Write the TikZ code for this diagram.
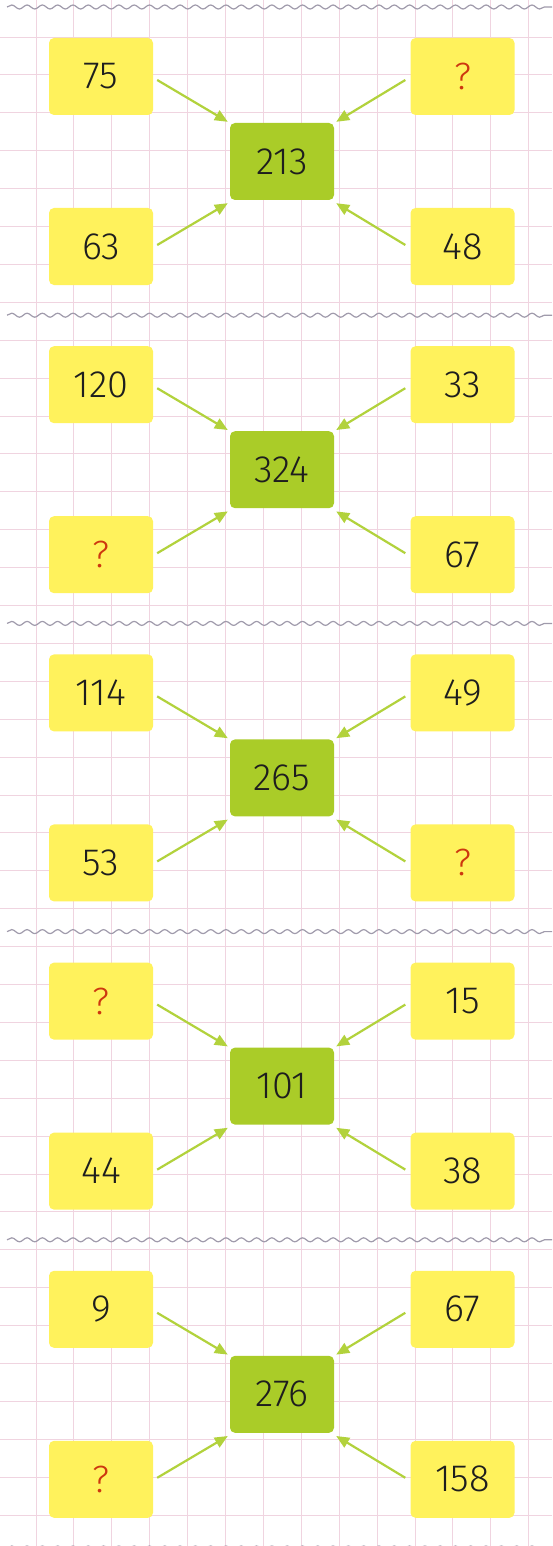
\documentclass[tikz,border=0pt]{standalone}
\usepackage{fontspec}
\setmainfont{Fira Sans Light}
\usetikzlibrary{arrows.meta,calc,decorations.pathmorphing}
\definecolor{boxyellow}{RGB}{255,242,92}
\definecolor{boxgreen}{RGB}{170,204,40}
\definecolor{arrgreen}{RGB}{178,210,60}
\definecolor{gridpink}{RGB}{240,212,224}
\definecolor{wavegray}{RGB}{160,155,172}
\definecolor{qred}{RGB}{205,55,15}
\definecolor{numtext}{RGB}{30,30,30}
\newcommand{\qm}{\textcolor{qred}{?}}
\begin{document}
\begin{tikzpicture}[x=1pt,y=-1pt,
  numbox/.style={rounded corners=5pt, minimum width=104pt, minimum height=77pt, inner sep=0pt, font=\fontsize{38}{42}\selectfont, text=numtext},
  ybox/.style={numbox, fill=boxyellow},
  gbox/.style={numbox, fill=boxgreen},
  conn/.style={draw=arrgreen, line width=2.2pt, -{Triangle[length=13pt,width=11pt]}},
  wave/.style={draw=wavegray, line width=1.2pt, decorate, decoration={snake, segment length=15.3pt, amplitude=2pt}},
  gridline/.style={draw=gridpink, line width=0.9pt}]
\fill[white] (0,0) rectangle (552,1546);
\useasboundingbox (0,0) rectangle (552,1546);
\begin{scope}
\clip (0,0) rectangle (552,1546);
\foreach \i in {0,...,13} \draw[gridline] (36+37.9*\i,0) -- (36+37.9*\i,1546);
\foreach \j in {0,...,39} \draw[gridline] (0,37+37.9*\j) -- (552,37+37.9*\j);
\foreach \k in {0,...,5} \draw[wave] (7,7+308.2*\k) -- (552,7+308.2*\k);
\end{scope}
\foreach \k/\a/\b/\c/\d/\e in {1/75/\qm/213/63/48, 2/120/33/324/\qm/67, 3/114/49/265/53/\qm, 4/\qm/15/101/44/38, 5/9/67/276/\qm/158} {
  \pgfmathsetmacro\oy{7+308.2*(\k-1)}
  \node[ybox] (tl\k) at (101,\oy+69.5) {\a};
  \node[ybox] (tr\k) at (462.5,\oy+69.5) {\b};
  \node[gbox] (c\k) at (282,\oy+154.5) {\c};
  \node[ybox] (bl\k) at (101,\oy+239.5) {\d};
  \node[ybox] (br\k) at (462.5,\oy+239.5) {\e};
  \draw[conn] ($(tl\k.east)+(4,3.5)$) -- ($(c\k.north west)+(-2,-1)$);
  \draw[conn] ($(tr\k.west)+(-5,3.5)$) -- ($(c\k.north east)+(2,-1)$);
  \draw[conn] ($(bl\k.east)+(4,-1.5)$) -- ($(c\k.south west)+(-2,3)$);
  \draw[conn] ($(br\k.west)+(-5,-1.5)$) -- ($(c\k.south east)+(2,3)$);
}
\end{tikzpicture}
\end{document}
